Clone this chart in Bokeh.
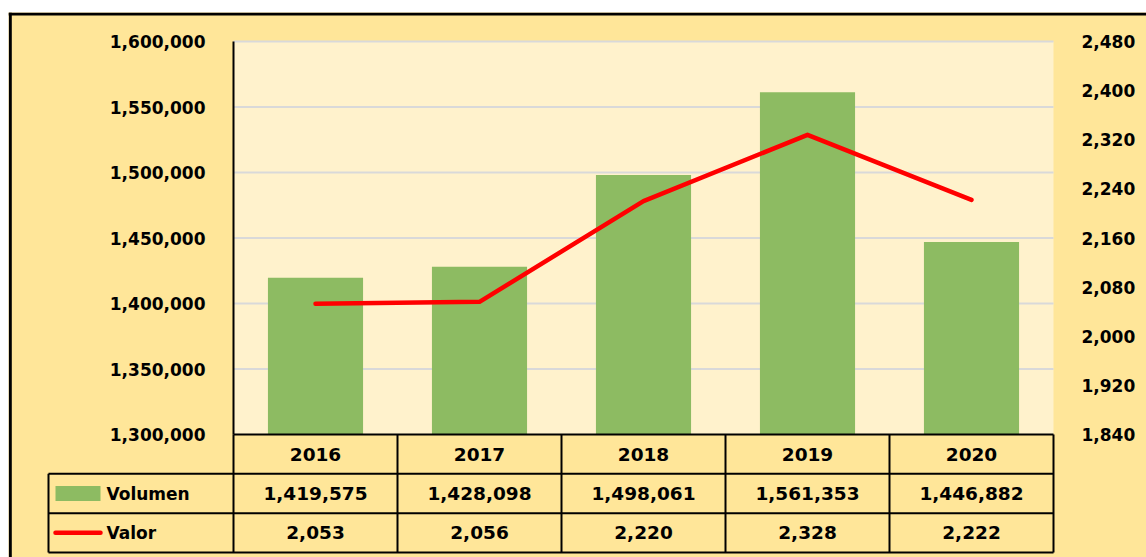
from bokeh.plotting import figure
from bokeh.models import (Range1d, LinearAxis, FixedTicker, NumeralTickFormatter,
                          BoxAnnotation, ColumnDataSource)
from bokeh.core.properties import value
from bokeh.embed import file_html
from bokeh.resources import INLINE

# ---------------- data ----------------
categories = ["2016", "2017", "2018", "2019", "2020"]
volumen = [1419575, 1428098, 1498061, 1561353, 1446882]
valor = [2053, 2056, 2220, 2328, 2222]
left_ticks = [1300000, 1350000, 1400000, 1450000, 1500000, 1550000, 1600000]
right_ticks = [1840, 1920, 2000, 2080, 2160, 2240, 2320, 2400, 2480]
series_names = ["Volumen", "Valor"]

# ---------------- layout (page pixels) ----------------
W, H = 1146, 557
FR_L, FR_T, FR_R, FR_B = 8, 12, 1146, 557        # frame on page
PA_L, PA_R, PA_T, PA_B = 233, 1053, 41, 434       # plot area on page
TB_B = 552                                         # table bottom
LEG_L = 48                                         # legend column left

n = len(categories)
ux = (PA_R - PA_L) / n
x_start = -(PA_L - FR_L) / ux
x_end = (FR_R - PA_L) / ux

lo, hi = left_ticks[0], left_ticks[-1]
py = (PA_B - PA_T) / (hi - lo)
y_start = lo - (FR_B - PA_B) / py
y_end = hi + (PA_T - FR_T) / py

rlo, rhi = right_ticks[0], right_ticks[-1]
rpy = (PA_B - PA_T) / (rhi - rlo)
r_start = rlo - (FR_B - PA_B) / rpy
r_end = rhi + (PA_T - FR_T) / rpy

rows = 3
tpy = (TB_B - PA_B) / rows
t_start = -(FR_B - PA_B) / tpy
t_end = (PA_B - FR_T) / tpy


def dx(px):
    return (px - PA_L) / ux


def dy(pyv):
    return hi - (pyv - PA_T) / py


FONT = value("DejaVu Sans")
OUTER = "#FFE699"
INNER = "#FFF2CC"
GREEN = "#8DBB62"
RED = "#FF0000"

p = figure(width=W, height=H, output_backend="svg", toolbar_location=None,
           x_axis_type=None, y_axis_type=None,
           x_range=Range1d(x_start, x_end), y_range=Range1d(y_start, y_end),
           min_border_left=FR_L, min_border_right=W - FR_R, min_border_top=FR_T,
           min_border_bottom=H - FR_B)
p.extra_y_ranges = {"valor": Range1d(r_start, r_end), "tbl": Range1d(t_start, t_end)}
p.background_fill_color = OUTER
p.border_fill_color = "white"
p.outline_line_color = None
p.xgrid.visible = False
p.ygrid.visible = False

# plot area background
p.add_layout(BoxAnnotation(left=0, right=n, bottom=lo, top=hi,
                           fill_color=INNER, fill_alpha=1, line_color=None,
                           level="underlay"))

# gridlines
gl = left_ticks[1:]
p.segment(x0=[0] * len(gl), x1=[n] * len(gl), y0=gl, y1=gl,
          line_color="#D9D9D9", line_width=2)

xs = [i + 0.5 for i in range(n)]
src = ColumnDataSource(dict(x=xs, cat=categories, vol=volumen, val=valor,
                            vol_s=[f"{v:,}" for v in volumen],
                            val_s=[f"{v:,}" for v in valor]))

p.vbar(x="x", top="vol", bottom=lo, width=0.58, source=src,
       fill_color=GREEN, line_color=None)
p.line(x="x", y="val", source=src, y_range_name="valor",
       line_color=RED, line_width=4.5, line_join="round", line_cap="round")

# axes
ax = LinearAxis(fixed_location=0, bounds=(lo, hi), ticker=FixedTicker(ticks=left_ticks),
                formatter=NumeralTickFormatter(format="0,0"),
                major_tick_out=0, major_tick_in=0, minor_tick_out=0, minor_tick_in=0,
                axis_line_color="black", axis_line_width=2,
                major_label_standoff=28,
                major_label_text_font="DejaVu Sans", major_label_text_font_style="bold",
                major_label_text_font_size="17px", major_label_text_color="black")
p.add_layout(ax, "left")
ax2 = LinearAxis(y_range_name="valor", fixed_location=n, bounds=(rlo, rhi),
                 ticker=FixedTicker(ticks=right_ticks),
                 formatter=NumeralTickFormatter(format="0,0"),
                 major_tick_out=0, major_tick_in=0, minor_tick_out=0, minor_tick_in=0,
                 axis_line_color=None, major_label_standoff=28,
                 major_label_text_font="DejaVu Sans", major_label_text_font_style="bold",
                 major_label_text_font_size="17px", major_label_text_color="black")
p.add_layout(ax2, "right")

# table lines
lx_left = dx(LEG_L)
hx0 = [0, lx_left, lx_left, lx_left]
hx1 = [n, n, n, n]
hy = [0, -1, -2, -3]
p.segment(x0=hx0, x1=hx1, y0=hy, y1=hy, y_range_name="tbl",
          line_color="black", line_width=2)
vx = list(range(n + 1)) + [lx_left]
vy0 = [0] * (n + 1) + [-1]
vy1 = [-3] * (n + 2)
p.segment(x0=vx, x1=vx, y0=vy0, y1=vy1, y_range_name="tbl",
          line_color="black", line_width=2)

# table texts
common = dict(text_font=FONT, text_font_style="bold", text_font_size="18.5px",
              text_align="center", text_baseline="middle", text_color="black",
              y_range_name="tbl", source=src)
p.text(x="x", y=-0.5, text="cat", **common)
p.text(x="x", y=-1.5, text="vol_s", **common)
p.text(x="x", y=-2.5, text="val_s", **common)

# legend cells
p.rect(x=[dx(77.5)], y=[-1.5], width=45 / ux, height=15 / tpy, y_range_name="tbl",
       fill_color=GREEN, line_color=None)
p.segment(x0=[dx(55)], x1=[dx(100)], y0=[-2.5], y1=[-2.5], y_range_name="tbl",
          line_color=RED, line_width=4.5, line_cap="round")
p.text(x=[dx(106)] * 2, y=[-1.5, -2.5], text=series_names, y_range_name="tbl",
       text_font=FONT, text_font_style="bold", text_font_size="17px",
       text_align="left", text_baseline="middle", text_color="black")

# outer border (top and left)
p.segment(x0=[x_start], x1=[x_end], y0=[dy(13.5)], y1=[dy(13.5)],
          line_color="black", line_width=3)
p.segment(x0=[dx(9.8)], x1=[dx(9.8)], y0=[y_start], y1=[y_end],
          line_color="black", line_width=3)

open("out.html", "w").write(file_html(p, INLINE))
